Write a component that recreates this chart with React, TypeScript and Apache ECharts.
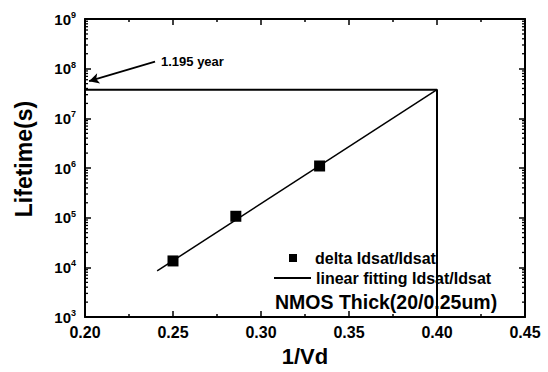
import React, { useEffect, useRef } from "react";
import * as echarts from "echarts";

const measuredX = [0.25, 0.2857, 0.3333];
const measuredLifetime = [1.35e4, 1.07e5, 1.1e6];
const fitX = [0.241, 0.4];
const fitLifetime = [8.5e3, 3.77e7];
const boundX = [0.2, 0.4, 0.4];
const boundY = [3.77e7, 3.77e7, 1e3];
const arrowFrom = [0.2398, 1.38e8];
const arrowTo = [0.2023, 5.6e7];
const xTicks = ["0.20", "0.25", "0.30", "0.35", "0.40", "0.45"];
const yDecades = [1e3, 1e4, 1e5, 1e6, 1e7, 1e8, 1e9];
const yMinorMultipliers = [2, 3, 4, 5, 6, 7, 8, 9];
const annotation = "1.195 year";
const deviceLabel = "NMOS Thick(20/0.25um)";
const seriesNames = ["delta Idsat/Idsat", "linear fitting Idsat/Idsat"];

const FONT = "Liberation Sans, Arial, sans-serif";
const X_MIN = 0.2;
const X_MAX = 0.45;
const Y_MIN = 1e3;
const Y_MAX = 1e9;

const yMinorTickValues: number[] = [];
yDecades.slice(0, -1).forEach((d) => yMinorMultipliers.forEach((m) => yMinorTickValues.push(d * m)));

const axisLineOpt = () => ({ show: true, onZero: false, lineStyle: { color: "#000", width: 2 } });
const majorTick = () => ({ show: true, inside: true, length: 6, lineStyle: { color: "#000", width: 1.5 } });
const xMinor = () => ({ show: true, splitNumber: 2, length: 3, lineStyle: { color: "#000", width: 1.5 } });

function yMinorTickSeries(values: number[], len: number) {
  return {
    type: "custom",
    xAxisIndex: 0,
    yAxisIndex: 0,
    silent: true,
    z: 10,
    data: values.map((v) => [X_MIN, v]),
    renderItem: (_p: any, api: any) => {
      const v = api.value(1);
      const l = api.coord([X_MIN, v]);
      const r = api.coord([X_MAX, v]);
      return {
        type: "group",
        children: [
          { type: "line", shape: { x1: l[0], y1: l[1], x2: l[0] + len, y2: l[1] }, style: { stroke: "#000", lineWidth: 1.3 } },
          { type: "line", shape: { x1: r[0], y1: r[1], x2: r[0] - len, y2: r[1] }, style: { stroke: "#000", lineWidth: 1.3 } },
        ],
      };
    },
  };
}

export default function App() {
  const ref = useRef<HTMLDivElement>(null);
  useEffect(() => {
    const chart = echarts.init(ref.current!, null, { renderer: "svg" });
    const legendText = () => ({ fontFamily: FONT, fontWeight: "bold", fontSize: 16, color: "#000" });
    chart.setOption({
      animation: false,
      grid: [{ left: 85, top: 19, width: 440, height: 304 }],
      legend: [
        {
          data: [{ name: seriesNames[0], icon: "rect" }],
          left: 289,
          top: 250,
          itemWidth: 8,
          itemHeight: 8,
          textStyle: { ...legendText(), padding: [0, 0, 0, 13] },
          padding: 0,
          selectedMode: false,
        },
        {
          data: [{ name: seriesNames[1], icon: "rect" }],
          left: 274,
          top: 270,
          itemWidth: 37,
          itemHeight: 2,
          textStyle: { ...legendText(), padding: [0, 0, 0, 0] },
          padding: 0,
          selectedMode: false,
        },
      ],
      xAxis: [
        {
          gridIndex: 0,
          type: "value",
          min: X_MIN,
          max: X_MAX,
          interval: 0.05,
          axisLine: axisLineOpt(),
          splitLine: { show: false },
          axisTick: majorTick(),
          minorTick: xMinor(),
          axisLabel: {
            color: "#000",
            fontFamily: FONT,
            fontWeight: "bold",
            fontSize: 16,
            margin: 7,
            formatter: (v: number) => xTicks[Math.round((v - 0.2) / 0.05)] ?? "",
          },
          name: "1/Vd",
          nameLocation: "middle",
          nameGap: 26,
          nameTextStyle: { color: "#000", fontFamily: FONT, fontWeight: "bold", fontSize: 22 },
        },
        {
          gridIndex: 0,
          type: "value",
          min: X_MIN,
          max: X_MAX,
          interval: 0.05,
          axisLine: axisLineOpt(),
          splitLine: { show: false },
          axisTick: majorTick(),
          minorTick: xMinor(),
          axisLabel: { show: false },
        },
      ],
      yAxis: [
        {
          gridIndex: 0,
          type: "log",
          logBase: 10,
          min: Y_MIN,
          max: Y_MAX,
          axisLine: axisLineOpt(),
          splitLine: { show: false },
          axisTick: majorTick(),
          axisLabel: {
            color: "#000",
            fontFamily: FONT,
            fontWeight: "bold",
            fontSize: 15,
            margin: 9,
            formatter: (v: number) => "10{sup|" + Math.round(Math.log10(v)) + "}",
            rich: {
              sup: { fontSize: 9, fontWeight: "bold", fontFamily: FONT, color: "#000", verticalAlign: "top", padding: [0, 0, 8, 0] },
            },
          },
          name: "Lifetime(s)",
          nameLocation: "middle",
          nameGap: 50,
          nameTextStyle: { color: "#000", fontFamily: FONT, fontWeight: "bold", fontSize: 23, padding: [0, 0, 0, 18] },
        },
        {
          gridIndex: 0,
          type: "log",
          logBase: 10,
          min: Y_MIN,
          max: Y_MAX,
          axisLine: axisLineOpt(),
          splitLine: { show: false },
          axisTick: majorTick(),
          axisLabel: { show: false },
        },
      ],
      series: [
        {
          name: seriesNames[0],
          type: "line",
          xAxisIndex: 0,
          yAxisIndex: 0,
          symbol: "rect",
          symbolSize: 11,
          showSymbol: true,
          lineStyle: { width: 0, opacity: 0 },
          itemStyle: { color: "#000" },
          data: measuredX.map((x, i) => [x, measuredLifetime[i]]),
          z: 5,
          markLine: {
            silent: true,
            symbol: ["none", "arrow"],
            symbolSize: [8, 10],
            label: { show: false },
            lineStyle: { color: "#000", width: 1.8, type: "solid" },
            data: [[{ coord: arrowFrom }, { coord: arrowTo }]],
          },
        },
        {
          name: seriesNames[1],
          type: "line",
          xAxisIndex: 0,
          yAxisIndex: 0,
          showSymbol: false,
          lineStyle: { color: "#000", width: 1.5 },
          itemStyle: { color: "#000" },
          data: fitX.map((x, i) => [x, fitLifetime[i]]),
        },
        {
          name: "bound",
          type: "line",
          xAxisIndex: 0,
          yAxisIndex: 0,
          showSymbol: false,
          lineStyle: { color: "#000", width: 2 },
          itemStyle: { color: "#000" },
          data: boundX.map((x, i) => [x, boundY[i]]),
        },
        yMinorTickSeries(yMinorTickValues, 3),
      ],
      graphic: [
        {
          type: "text",
          left: 161,
          top: 55,
          style: { text: annotation, fontFamily: FONT, fontWeight: "bold", fontSize: 13, fill: "#000" },
        },
        {
          type: "text",
          left: 275,
          top: 292,
          style: { text: deviceLabel, fontFamily: FONT, fontWeight: "bold", fontSize: 19.5, fill: "#000" },
        },
      ],
    });
    return () => chart.dispose();
  }, []);
  return <div ref={ref} style={{ width: 548, height: 372, position: "absolute", left: 0, top: 0, background: "#fff" }} />;
}
